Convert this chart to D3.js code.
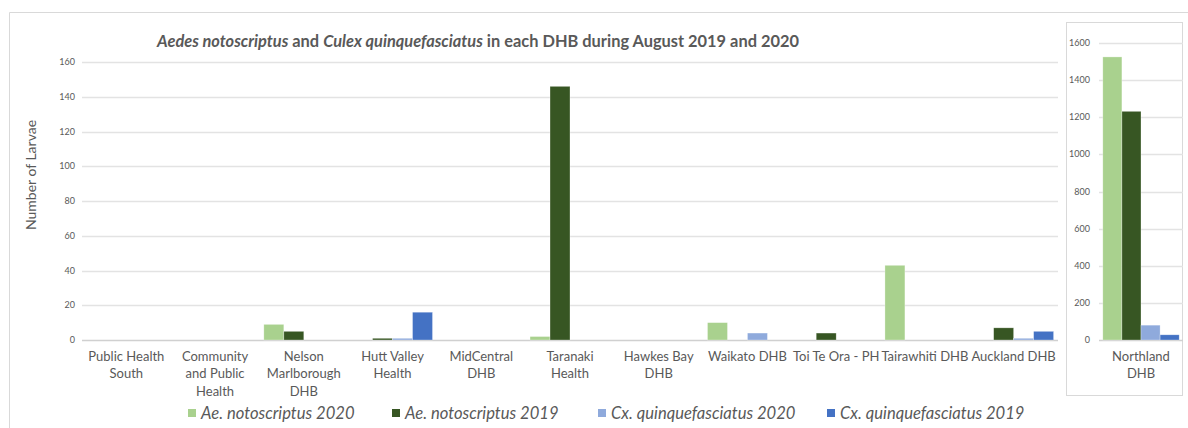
<!DOCTYPE html>
<html>
<head>
<meta charset="utf-8">
<script src="https://cdn.jsdelivr.net/npm/d3@7"></script>
<style>
  body { margin: 0; background: #fff; }
  svg { display: block; font-family: Lato, "Open Sans", sans-serif; }
</style>
</head>
<body>
<svg id="chart" width="1188" height="428"></svg>
<script>
// categories (wrapped as in the original)
const categories = [
  'Public Health South', 'Community and Public Health', 'Nelson Marlborough DHB',
  'Hutt Valley Health', 'MidCentral DHB', 'Taranaki Health', 'Hawkes Bay DHB',
  'Waikato DHB', 'Toi Te Ora - PH', 'Tairawhiti DHB', 'Auckland DHB'
];
const categoryLines = [
  ['Public Health', 'South'], ['Community', 'and Public', 'Health'], ['Nelson', 'Marlborough', 'DHB'],
  ['Hutt Valley', 'Health'], ['MidCentral', 'DHB'], ['Taranaki', 'Health'], ['Hawkes Bay', 'DHB'],
  ['Waikato DHB'], ['Toi Te Ora - PH'], ['Tairawhiti DHB'], ['Auckland DHB']
];
const seriesNames = ['Ae. notoscriptus 2020', 'Ae. notoscriptus 2019', 'Cx. quinquefasciatus 2020', 'Cx. quinquefasciatus 2019'];
const seriesColors = ['#a9d18e', '#375623', '#8faadc', '#4472c4'];

const aeNoto2020 = [0, 0, 9, 0, 0, 2, 0, 10, 0, 43, 0];
const aeNoto2019 = [0, 0, 5, 1, 0, 146, 0, 0, 4, 0, 7];
const cxQuinq2020 = [0, 0, 0, 1, 0, 0, 0, 4, 0, 0, 1];
const cxQuinq2019 = [0, 0, 0, 16, 0, 0, 0, 0, 0, 0, 5];

const insetCategory = 'Northland DHB';
const insetLines = ['Northland', 'DHB'];
const northlandValues = [1525, 1232, 80, 28];

const mainTicks = [0, 20, 40, 60, 80, 100, 120, 140, 160];
const insetTicks = [0, 200, 400, 600, 800, 1000, 1200, 1400, 1600];

const seriesData = [aeNoto2020, aeNoto2019, cxQuinq2020, cxQuinq2019];
const textColor = '#595959';
const gridColor = '#e3e3e3';

const svg = d3.select('#chart');

// outer frame
svg.append('path')
  .attr('d', 'M9.5,428 L9.5,12.5 L1188,12.5')
  .attr('fill', 'none')
  .attr('stroke', '#d9d9d9');

// ---- main chart
const x = d3.scaleBand().domain(categories).range([82, 1058]);
const xs = d3.scaleBand().domain(seriesNames).range([0, x.bandwidth()]).paddingOuter(0.22);
const y = d3.scaleLinear().domain([0, 160]).range([340, 62]);

svg.append('g').selectAll('line')
  .data(mainTicks)
  .join('line')
  .attr('x1', 82).attr('x2', 1058)
  .attr('y1', d => Math.round(y(d)) + 0.5).attr('y2', d => Math.round(y(d)) + 0.5)
  .attr('stroke', d => d === 0 ? '#d0d0d0' : gridColor)
  .attr('stroke-width', 1.3);

svg.append('g').selectAll('text')
  .data(mainTicks)
  .join('text')
  .attr('x', 75).attr('y', d => y(d) + 3)
  .attr('text-anchor', 'end')
  .attr('font-size', 9)
  .attr('fill', textColor)
  .text(d => d);

const mainBars = [];
categories.forEach((c, i) => seriesNames.forEach((s, j) => {
  mainBars.push({ c, s, v: seriesData[j][i], color: seriesColors[j] });
}));

svg.append('g').selectAll('rect')
  .data(mainBars.filter(d => d.v > 0))
  .join('rect')
  .attr('x', d => x(d.c) + xs(d.s))
  .attr('width', xs.bandwidth())
  .attr('y', d => y(d.v))
  .attr('height', d => y(0) - y(d.v))
  .attr('fill', d => d.color)
  .attr('stroke', 'rgba(255,255,255,0.5)')
  .attr('stroke-width', 0.6);

const xl = svg.append('g').selectAll('text')
  .data(categories)
  .join('text')
  .attr('text-anchor', 'middle')
  .attr('font-size', 13)
  .attr('fill', textColor);
xl.each(function (d, i) {
  d3.select(this).selectAll('tspan')
    .data(categoryLines[i])
    .join('tspan')
    .attr('x', x(d) + x.bandwidth() / 2)
    .attr('y', (l, k) => 361 + k * 17.3)
    .text(l => l);
});

// y axis title
svg.append('text')
  .attr('transform', 'translate(36,175) rotate(-90)')
  .attr('text-anchor', 'middle')
  .attr('font-size', 14)
  .attr('fill', textColor)
  .text('Number of Larvae');

// title
const title = svg.append('text')
  .attr('x', 478).attr('y', 47)
  .attr('text-anchor', 'middle')
  .attr('font-size', 16.4)
  .attr('font-weight', 'bold')
  .attr('fill', textColor);
[['Aedes notoscriptus', true], [' and ', false], ['Culex quinquefasciatus', true],
 [' in each DHB during August 2019 and 2020', false]].forEach(([t, it]) => {
  title.append('tspan').attr('font-style', it ? 'italic' : 'normal').text(t);
});

// ---- inset (Northland)
svg.append('rect')
  .attr('x', 1066.5).attr('y', 22.5)
  .attr('width', 116).attr('height', 373)
  .attr('fill', 'none')
  .attr('stroke', '#d9d9d9');

const xi = d3.scaleBand().domain([insetCategory]).range([1099, 1183]);
const xis = d3.scaleBand().domain(seriesNames).range([0, xi.bandwidth()]).paddingOuter(0.2);
const yi = d3.scaleLinear().domain([0, 1600]).range([340, 43]);

svg.append('g').selectAll('line')
  .data(insetTicks)
  .join('line')
  .attr('x1', 1099).attr('x2', 1183)
  .attr('y1', d => Math.round(yi(d)) + 0.5).attr('y2', d => Math.round(yi(d)) + 0.5)
  .attr('stroke', d => d === 0 ? '#d0d0d0' : gridColor)
  .attr('stroke-width', 1.3);

svg.append('g').selectAll('text')
  .data(insetTicks)
  .join('text')
  .attr('x', 1090).attr('y', d => yi(d) + 3)
  .attr('text-anchor', 'end')
  .attr('font-size', 9)
  .attr('fill', textColor)
  .text(d => d);

svg.append('g').selectAll('rect')
  .data(northlandValues.map((v, j) => ({ s: seriesNames[j], v, color: seriesColors[j] })))
  .join('rect')
  .attr('x', d => xi(insetCategory) + xis(d.s))
  .attr('width', xis.bandwidth())
  .attr('y', d => yi(d.v))
  .attr('height', d => yi(0) - yi(d.v))
  .attr('fill', d => d.color)
  .attr('stroke', 'rgba(255,255,255,0.5)')
  .attr('stroke-width', 0.6);

svg.append('text')
  .attr('text-anchor', 'middle')
  .attr('font-size', 13)
  .attr('fill', textColor)
  .selectAll('tspan')
  .data(insetLines)
  .join('tspan')
  .attr('x', xi(insetCategory) + xi.bandwidth() / 2)
  .attr('y', (l, k) => 361 + k * 17.3)
  .text(l => l);

// ---- legend
const legendX = [188, 392, 598, 827];
const legend = svg.append('g').selectAll('g')
  .data(seriesNames)
  .join('g')
  .attr('transform', (d, i) => `translate(${legendX[i]},0)`);
legend.append('rect')
  .attr('x', 0).attr('y', 409)
  .attr('width', 8).attr('height', 8)
  .attr('fill', (d, i) => seriesColors[i]);
legend.append('text')
  .attr('x', 13).attr('y', 419)
  .attr('font-size', 16.6)
  .attr('font-style', 'italic')
  .attr('fill', textColor)
  .text(d => d);
</script>
</body>
</html>
